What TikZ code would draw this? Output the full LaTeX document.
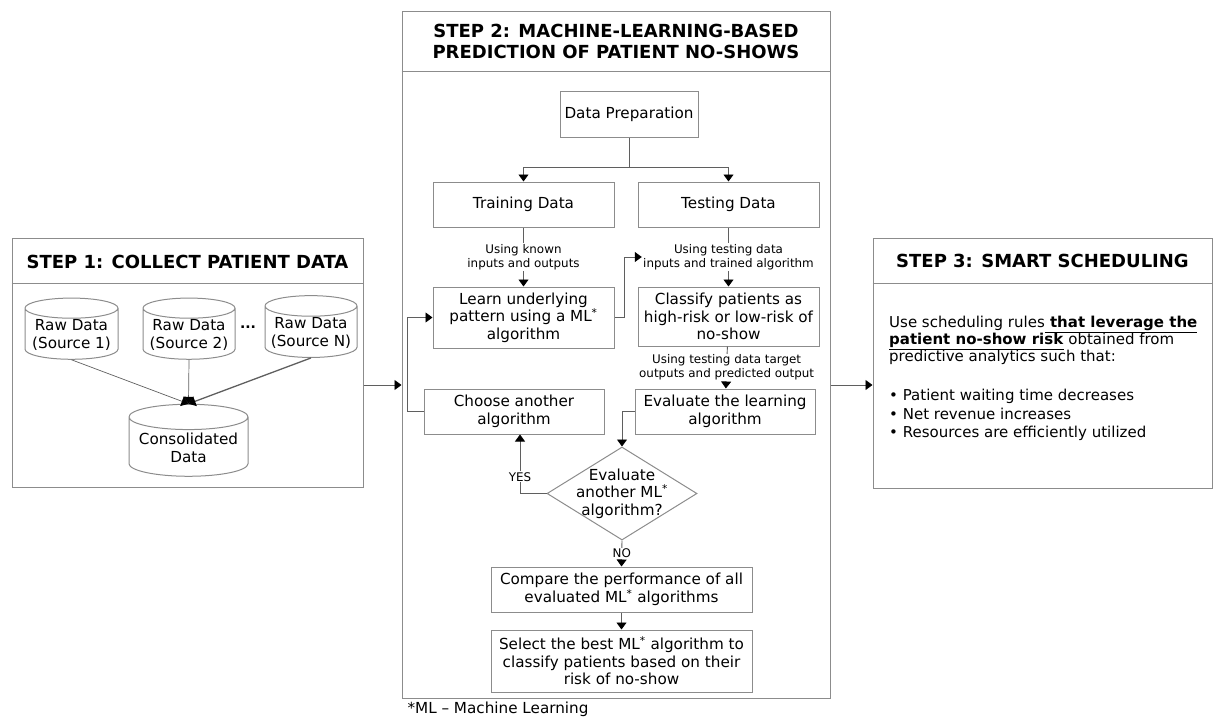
\documentclass[tikz,border=0pt]{standalone}
\usepackage{fontspec}
\setmainfont{DejaVu Sans}
\usetikzlibrary{shapes.geometric,arrows.meta,positioning,calc}
\definecolor{frame}{RGB}{140,140,140}
\definecolor{wire}{RGB}{95,95,95}

\begin{document}
\begin{tikzpicture}[x=1pt,y=-1pt,
  every node/.style={font=\fontsize{15.2}{17.5}\selectfont},
  stepframe/.style={draw=frame,line width=1pt,inner sep=0pt},
  steptitle/.style={font=\bfseries\fontsize{18}{21}\selectfont,align=center},
  box/.style={draw=frame,line width=1pt,align=center,inner sep=1pt},
  cyl/.style={draw=frame,line width=1pt,cylinder,shape border rotate=90,
    aspect=0.25,align=center,inner sep=1pt},
  dec/.style={draw=frame,line width=1pt,diamond,aspect=1.6,inner sep=-9pt,
    align=center,minimum width=150pt,minimum height=93pt},
  lbl/.style={fill=white,align=center,inner sep=1pt,
    font=\fontsize{11.9}{14}\selectfont},
  arr/.style={draw=wire,line width=0.9pt,-{Triangle[color=black,width=10pt,length=7pt]}}]
\useasboundingbox (0,0) rectangle (1213,717);

% step frames
\node[stepframe,minimum width=351pt,minimum height=249pt] (s1) at (187.5,362.5) {};
\node[stepframe,minimum width=428pt,minimum height=686pt] (s2) at (616,355) {};
\node[stepframe,minimum width=339pt,minimum height=250pt] (s3) at (1042.5,363) {};
\draw[draw=frame,line width=1pt] (s1.west |- 0,283) -- (s1.east |- 0,283);
\draw[draw=frame,line width=1pt] (s2.west |- 0,72) -- (s2.east |- 0,72);
\draw[draw=frame,line width=1pt] (s3.west |- 0,283) -- (s3.east |- 0,283);
\node[steptitle] (t1) at (187.5,262) {STEP 1: COLLECT PATIENT DATA};
\node[steptitle] (t2) at (616,41.5) {STEP 2: MACHINE-LEARNING-BASED\\PREDICTION OF PATIENT NO-SHOWS};
\node[steptitle] (t3) at (1042.5,261) {STEP 3: SMART SCHEDULING};

% step 1
\node[cyl,minimum width=93pt,minimum height=60pt] (raw1) at (71.5,335) {Raw Data\\(Source 1)};
\node[cyl,minimum width=92pt,minimum height=60pt] (raw2) at (189,335) {Raw Data\\(Source 2)};
\node[cyl,minimum width=92pt,minimum height=58pt] (rawn) at (311,333) {Raw Data\\(Source N)};
\node[font=\bfseries\fontsize{14}{17}\selectfont] (dots) at (248,327) {...};
\node[cyl,minimum width=119pt,minimum height=72pt] (cons) at (188.5,448) {Consolidated\\Data};
\draw[arr,line width=0.7pt] (raw1.south) -- (cons.north);
\draw[arr,line width=0.7pt] (raw2.south) -- (cons.north);
\draw[arr,line width=1.3pt] (rawn.south) -- (cons.north);

% step 2
\node[box,minimum width=138pt,minimum height=46pt] (prep) at (629,114) {Data Preparation};
\node[box,minimum width=181pt,minimum height=45pt] (train) at (523.5,204.5) {Training Data};
\node[box,minimum width=181pt,minimum height=45pt] (test) at (728.5,204.5) {Testing Data};
\node[box,minimum width=181pt,minimum height=61pt] (learn) at (523.5,317.5)
  {Learn underlying\\pattern using a ML\textsuperscript{*}\\algorithm};
\node[box,minimum width=181pt,minimum height=59pt] (classify) at (728.5,316.5)
  {Classify patients as\\high-risk or low-risk of\\no-show};
\node[box,minimum width=180pt,minimum height=45pt] (choose) at (514,411.5) {Choose another\\algorithm};
\node[box,minimum width=180pt,minimum height=45pt] (eval) at (725,411.5) {Evaluate the learning\\algorithm};
\node[dec] (again) at (622,493.5) {Evaluate\\another ML\textsuperscript{*}\\algorithm?};
\node[box,minimum width=261pt,minimum height=45pt] (compare) at (621.5,589.5)
  {Compare the performance of all\\evaluated ML\textsuperscript{*} algorithms};
\node[box,minimum width=261pt,minimum height=62pt] (select) at (621.5,661)
  {Select the best ML\textsuperscript{*} algorithm to\\classify patients based on their\\risk of no-show};
\node[anchor=west] (note) at (404,709) {*ML – Machine Learning};

\draw[draw=wire,line width=0.9pt] (prep.south) -- ++(0,30) coordinate (split);
\draw[arr] (split) -| (train.north);
\draw[arr] (split) -| (test.north);
\draw[arr] (train) -- node[lbl] (trainlbl) {Using known\\inputs and outputs} (learn);
\draw[arr] (test) -- node[lbl] (testlbl) {Using testing data\\inputs and trained algorithm} (classify);
\draw[arr] (learn.east) -- ++(10,0) |- (testlbl.west);
\draw[arr] (classify) -- node[lbl] (evallbl) {Using testing data target\\outputs and predicted output} (eval);
\draw[arr] (eval.west) -| (again.north);
\draw[arr] (again.west) -| node[lbl,pos=0.64] {YES} ([xshift=6pt]choose.south);
\draw[arr] (choose.west) -- ++(-16,0) |- (learn.west);
\draw[arr] (again.south) -- node[lbl] {NO} (compare.north);
\draw[arr] (compare) -- (select);

% between steps
\coordinate (flow) at (0,385);
\draw[arr] (s1.east |- flow) -- (s2.west |- flow);
\draw[arr] (s2.east |- flow) -- (s3.west |- flow);

% step 3
\node[anchor=north west,align=left,inner sep=0pt,font=\fontsize{15}{17}\selectfont] (rules) at (889,316)
  {Use scheduling rules\underline{\textbf{ that leverage the}}\\
   \underline{\textbf{patient no-show risk}} obtained from\\
   predictive analytics such that:};
\node[anchor=north west,align=left,inner sep=0pt,font=\fontsize{15}{18.5}\selectfont] (goals) at (889,389)
  {\textbullet\ Patient waiting time decreases\\
   \textbullet\ Net revenue increases\\
   \textbullet\ Resources are efficiently utilized};
\end{tikzpicture}
\end{document}
